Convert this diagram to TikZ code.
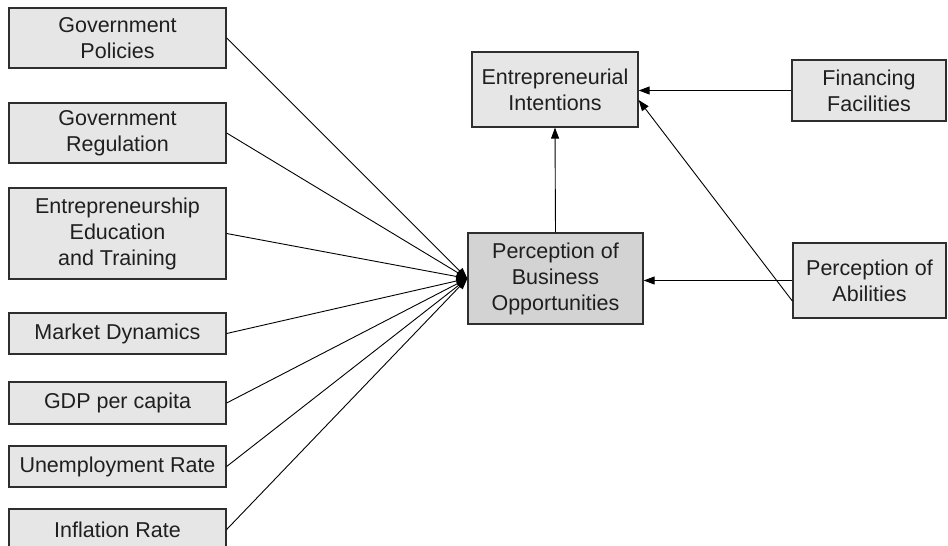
\documentclass[tikz,border=0pt]{standalone}
\usepackage{fontspec}
\setmainfont{Liberation Sans}
\usetikzlibrary{arrows.meta}
\definecolor{boxfill}{HTML}{E6E6E6}
\definecolor{mainfill}{HTML}{D3D3D3}
\definecolor{edge}{HTML}{2E2E2E}
\begin{document}
\begin{tikzpicture}[x=1pt,y=-1pt,
  box/.style={draw=edge,line width=1.3pt,fill=boxfill,inner sep=0pt,align=center,
    font=\fontsize{21.5}{26}\selectfont,text=black!88},
  mainbox/.style={box,fill=mainfill},
  arr/.style={draw=black,line width=0.9pt,-{Triangle[length=11pt,width=8pt]}}]
\useasboundingbox (0,0) rectangle (948,546);
\begin{scope}
\clip (0,0) rectangle (948,546);
% left column
\node[box,minimum width=217pt,minimum height=60pt] (pol) at (117.5,38) {Government\\Policies};
\node[box,minimum width=217pt,minimum height=60pt] (reg) at (117.5,133) {Government\\Regulation};
\node[box,minimum width=217pt,minimum height=91pt] (edu) at (117.5,233.5) {Entrepreneurship\\Education\\and Training};
\node[box,minimum width=217pt,minimum height=41pt] (mkt) at (117.5,333.5) {Market Dynamics};
\node[box,minimum width=217pt,minimum height=42pt] (gdp) at (117.5,403) {GDP per capita};
\node[box,minimum width=217pt,minimum height=41pt] (une) at (117.5,466.5) {Unemployment Rate};
\node[box,minimum width=217pt,minimum height=41pt] (inf) at (117.5,529.5) {Inflation Rate};
% center
\node[mainbox,minimum width=175pt,minimum height=91pt] (pbo) at (555.5,278.5) {Perception of\\Business\\Opportunities};
\node[box,minimum width=166pt,minimum height=75pt] (ei) at (555,89.5) {Entrepreneurial\\Intentions};
% right
\node[box,minimum width=154pt,minimum height=61pt] (ff) at (869,90.5) {Financing\\Facilities};
\node[box,minimum width=153pt,minimum height=75pt] (pa) at (869.5,280.5) {Perception of\\Abilities};
% connectors
\foreach \n in {pol,reg,edu,mkt,gdp,une,inf}
  \draw[arr] (\n.east) -- (pbo.west);
\draw[arr] (pbo.north) -- (ei.south);
\draw[arr] (ff.west) -- (ff.west -| ei.east);
\draw[arr] ([yshift=-20.5pt]pa.west) -- ([yshift=-10.5pt]ei.east);
\draw[arr] (pa.west) -- (pa.west -| pbo.east);
\end{scope}
\end{tikzpicture}
\end{document}
